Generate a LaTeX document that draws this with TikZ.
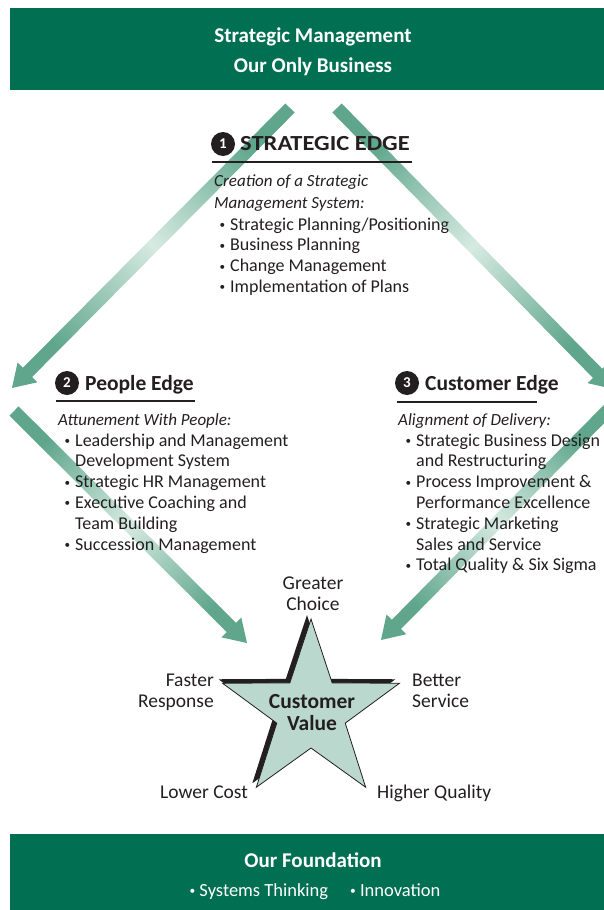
\documentclass[tikz,border=0pt]{standalone}
\usepackage{fontspec}
\usepackage{graphicx}
\setmainfont{Carlito}
\usetikzlibrary{calc}
\definecolor{bannergreen}{RGB}{0,111,82}
\definecolor{arrowdark}{RGB}{95,166,141}
\definecolor{arrowlight}{RGB}{214,234,226}
\definecolor{starfill}{RGB}{186,216,205}
\definecolor{ink}{RGB}{35,31,32}
\newcommand{\bigarrow}[3]{%
  \coordinate (#1h) at ($(#2)!22pt!(#1)$);
  \shade[top color=arrowdark, bottom color=arrowdark, middle color=arrowlight, shading angle=#3]
    ($(#1)!6.5pt!-90:(#2)$) -- ($(#1h)!6.5pt!90:(#1)$) -- ($(#1h)!14pt!90:(#1)$) -- (#2)
    -- ($(#1h)!14pt!-90:(#1)$) -- ($(#1h)!6.5pt!-90:(#1)$) -- ($(#1)!6.5pt!90:(#2)$) -- cycle;}
\newcommand{\starshape}{(90:93) -- (54:36) -- (18:93) -- (-18:36) -- (-54:93) -- (-90:36) -- (-126:93) -- (-162:36) -- (162:93) -- (126:36) -- cycle}
\newcommand{\smallbul}{\raisebox{1.6pt}{\scalebox{0.62}{•}}}
\newcommand{\linesblock}[2]{\vtop{\baselineskip=#1\lineskiplimit=-50pt\lineskip=0pt #2}}
\newcommand{\bulline}[1]{\hbox{\makebox[12pt][l]{\hspace{1.5pt}\smallbul}#1}}
\newcommand{\contline}[1]{\hbox{\hspace*{12pt}#1}}
\begin{document}
\begin{tikzpicture}[x=1pt,y=-1pt,
  banner/.style={fill=bannergreen, draw=none},
  bannertext/.style={font=\fontsize{21}{30}\selectfont\bfseries, text=white, inner sep=0pt, anchor=base},
  bodytext/.style={font=\fontsize{18}{20.8}\selectfont, text=ink, inner sep=0pt, anchor=base west},
  itext/.style={font=\fontsize{17}{20.8}\selectfont\itshape, text=ink, inner sep=0pt, anchor=base west},
  heading/.style={font=\fontsize{21.5}{24}\selectfont\bfseries, text=ink, inner sep=0pt, anchor=base west},
  numcircle/.style={circle, fill=ink, text=white, minimum size=24pt, inner sep=0pt, font=\fontsize{15}{15}\selectfont\bfseries},
  rulel/.style={draw=ink, line width=1.5pt},
  starlabel/.style={font=\fontsize{19.5}{22}\selectfont, text=ink, inner sep=0pt, anchor=base},
  starcentre/.style={font=\fontsize{21.5}{24}\selectfont\bfseries, text=ink, inner sep=0pt, anchor=base},
]
\useasboundingbox (0,0) rectangle (604,910);
\clip (0,0) rectangle (604,910);

% banners
\fill[banner] (10,8) rectangle (604,90);
\node[bannertext] (top1) at (313,42) {Strategic Management};
\node[bannertext] (top2) at (313,72) {Our Only Business};
\fill[banner] (10,834) rectangle (604,910);
\node[bannertext] (bot1) at (313,867) {Our Foundation};
\node[bannertext, font=\fontsize{18.5}{20}\selectfont] (bot2) at (315,896) {\smallbul\ Systems Thinking\hspace{22pt}\smallbul\ Innovation};

% arrows
\coordinate (a1) at (290,108); \coordinate (b1) at (12,388);
\coordinate (a2) at (337,108); \coordinate (b2) at (613,389);
\coordinate (a3) at (14,411);  \coordinate (b3) at (247,643);
\coordinate (a4) at (609,409); \coordinate (b4) at (381,640);
\bigarrow{a1}{b1}{-45}
\bigarrow{a2}{b2}{45}
\bigarrow{a3}{b3}{45}
\bigarrow{a4}{b4}{-45}

% strategic edge
\node[numcircle] (n1) at (223,144) {1};
\node[heading] (h1) at (240,150) {\scalebox{1.14}[1]{STRATEGIC EDGE}};
\coordinate (u1a) at (212,162); \coordinate (u1b) at (412,162);
\draw[rulel] (u1a) -- (u1b);
\node[itext] (s1) at (214,186) {\linesblock{22pt}{\hbox{Creation of a Strategic}\hbox{Management System:}}};
\node[bodytext] (s2) at (218,230) {\linesblock{20.8pt}{%
\bulline{Strategic Planning/Positioning}%
\bulline{Business Planning}%
\bulline{Change Management}%
\bulline{Implementation of Plans}}};

% people edge
\node[numcircle] (n2) at (67,383) {2};
\node[heading] (h2) at (85,390) {People Edge};
\coordinate (u2a) at (56,401); \coordinate (u2b) at (195,401);
\draw[rulel] (u2a) -- (u2b);
\node[itext] (p1) at (58,425) {Attunement With People:};
\node[bodytext] (p2) at (63,446) {\linesblock{20.8pt}{%
\bulline{Leadership and Management}%
\contline{Development System}%
\bulline{Strategic HR Management}%
\bulline{Executive Coaching and}%
\contline{Team Building}%
\bulline{Succession Management}}};

% customer edge
\node[numcircle] (n3) at (407,383) {3};
\node[heading] (h3) at (425,390) {Customer Edge};
\coordinate (u3a) at (397,402); \coordinate (u3b) at (537,402);
\draw[rulel] (u3a) -- (u3b);
\node[itext] (c1) at (398,425) {Alignment of Delivery:};
\node[bodytext] (c2) at (404,446) {\linesblock{20.8pt}{%
\bulline{Strategic Business Design}%
\contline{and Restructuring}%
\bulline{Process Improvement \&}%
\contline{Performance Excellence}%
\bulline{Strategic Marketing}%
\contline{Sales and Service}%
\bulline{Total Quality \& Six Sigma}}};

% star
\begin{scope}[shift={(307,708)}, y=1pt]
\fill[ink] \starshape;
\end{scope}
\begin{scope}[shift={(311,712)}, y=1pt]
\filldraw[fill=starfill, draw=ink, line width=0.8pt] \starshape;
\end{scope}
\node[starcentre] (cv1) at (312,708) {Customer};
\node[starcentre] (cv2) at (312,730) {Value};

\node[starlabel] (g1) at (313,589) {Greater};
\node[starlabel] (g2) at (313,610) {Choice};
\node[starlabel, anchor=base east] (f1) at (214,686) {Faster};
\node[starlabel, anchor=base east] (f2) at (214,707) {Response};
\node[starlabel, anchor=base west] (bs1) at (412,686) {Better};
\node[starlabel, anchor=base west] (bs2) at (412,707) {Service};
\node[starlabel, anchor=base west] (lc) at (160,798) {Lower Cost};
\node[starlabel, anchor=base west] (hq) at (377,798) {Higher Quality};
\end{tikzpicture}
\end{document}
